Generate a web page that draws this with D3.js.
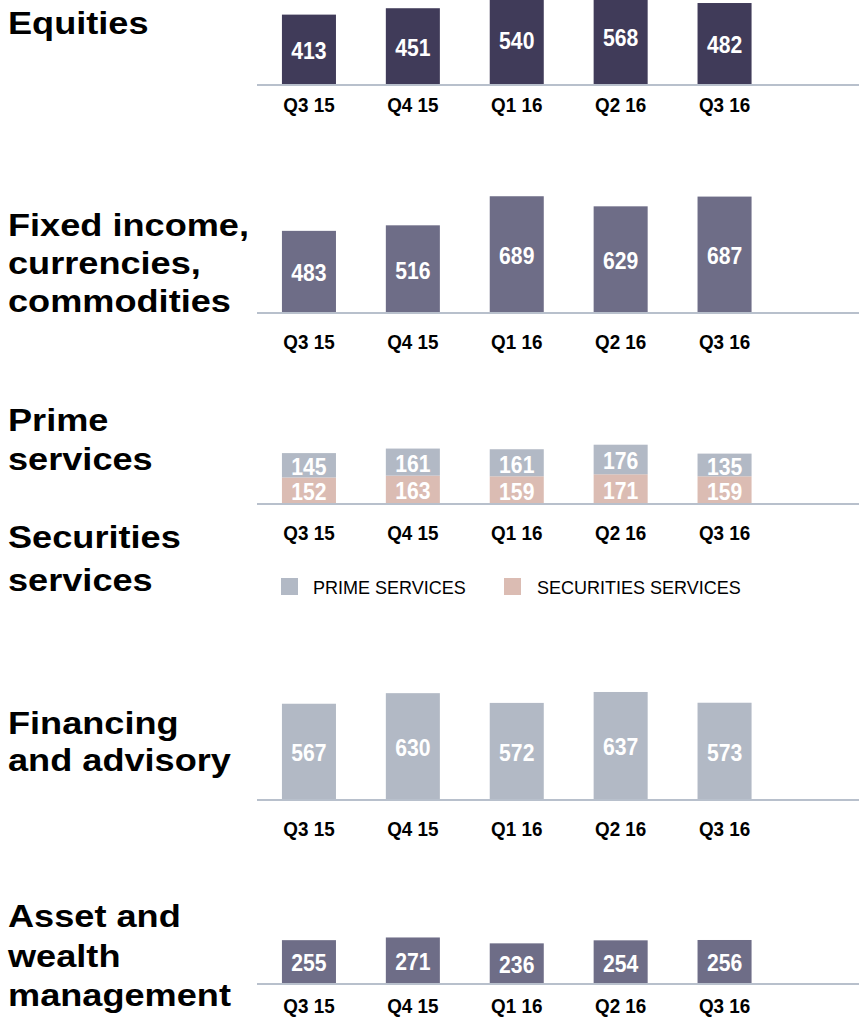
<!DOCTYPE html>
<html><head><meta charset="utf-8">
<script src="https://cdn.jsdelivr.net/npm/d3@7"></script>
<style>
html,body{margin:0;padding:0;background:#fff;}
svg{display:block;font-family:"Liberation Sans",Arial,Helvetica,sans-serif;}
</style></head>
<body>
<svg id="chart" width="859" height="1021"></svg>
<script>
// ---- data ----
const quarters = ["Q3 15", "Q4 15", "Q1 16", "Q2 16", "Q3 16"];
const equities = [413, 451, 540, 568, 482];
const ficc = [483, 516, 689, 629, 687];
const primeServices = [145, 161, 161, 176, 135];
const securitiesServices = [152, 163, 159, 171, 159];
const financingAdvisory = [567, 630, 572, 637, 573];
const assetWealth = [255, 271, 236, 254, 256];
const legendLabels = ["PRIME SERVICES", "SECURITIES SERVICES"];

// ---- layout ----
const svg = d3.select("#chart");
const x = d3.scaleBand().domain(quarters).range([257, 776.5]).paddingInner(0.48).paddingOuter(0.24);
const h = d3.scaleLinear().domain([0, 700]).range([0, 117.6]);

const colors = {
  equities: "#403b59",
  ficc: "#6e6d87",
  prime: "#b2b9c5",
  sec: "#dbbcb3",
  axis: "#b8c0cc"
};

function title(lines, baselines) {
  const g = svg.append("g").attr("transform", "translate(8,0) scale(1.13,1)");
  lines.forEach((t, i) => {
    g.append("text").attr("x", 0).attr("y", baselines[i])
      .attr("font-size", 32).attr("font-weight", "bold").attr("fill", "#000").text(t);
  });
}

function label(g, cx, cy, txt, size, fill) {
  g.append("text")
    .attr("transform", `translate(${cx},${cy}) scale(0.9,1)`)
    .attr("text-anchor", "middle").attr("dominant-baseline", "central")
    .attr("font-size", size).attr("font-weight", "bold").attr("fill", fill).text(txt);
}

function panel(axisY, stacks, tickOffset) {
  const g = svg.append("g");
  const cum = quarters.map(() => 0);
  stacks.forEach(s => {
    s.values.forEach((v, i) => {
      const y0 = axisY - h(cum[i]);
      const y1 = axisY - h(cum[i] + v);
      g.append("rect").attr("x", x(quarters[i])).attr("width", x.bandwidth())
        .attr("y", y1).attr("height", y0 - y1).attr("fill", s.color);
      cum[i] += v;
    });
  });
  g.append("line").attr("x1", 257).attr("x2", 859).attr("y1", axisY + 1).attr("y2", axisY + 1)
    .attr("stroke", colors.axis).attr("stroke-width", 2);
  const cum2 = quarters.map(() => 0);
  stacks.forEach(s => {
    s.values.forEach((v, i) => {
      const yc = axisY - h(cum2[i] + v / 2) + 2;
      label(g, x(quarters[i]) + x.bandwidth() / 2, yc, v, 23.5, "#fff");
      cum2[i] += v;
    });
  });
  quarters.forEach(q => {
    g.append("text")
      .attr("transform", `translate(${x(q) + x.bandwidth() / 2},${axisY + tickOffset}) scale(0.92,1)`)
      .attr("text-anchor", "middle").attr("font-size", 20.5).attr("font-weight", "bold")
      .attr("fill", "#000").text(q);
  });
}

// Equities
title(["Equities"], [34]);
panel(84, [{ values: equities, color: colors.equities }], 28);

// FICC
title(["Fixed income,", "currencies,", "commodities"], [236, 274, 312]);
panel(312, [{ values: ficc, color: colors.ficc }], 37);

// Prime / Securities
title(["Prime", "services"], [431, 470]);
title(["Securities", "services"], [548, 591]);
panel(503, [{ values: securitiesServices, color: colors.sec }, { values: primeServices, color: colors.prime }], 37);

// legend
const legendItems = [
  { label: legendLabels[0], color: colors.prime, sx: 281, tx: 313 },
  { label: legendLabels[1], color: colors.sec, sx: 504, tx: 537 }
];
const lg = svg.append("g");
legendItems.forEach(d => {
  lg.append("rect").attr("x", d.sx).attr("y", 578).attr("width", 17).attr("height", 17).attr("fill", d.color);
  lg.append("text").attr("x", d.tx).attr("y", 594).attr("font-size", 18).attr("fill", "#000").text(d.label);
});

// Financing and advisory
title(["Financing", "and advisory"], [734, 771]);
panel(799, [{ values: financingAdvisory, color: colors.prime }], 37);

// Asset and wealth management
title(["Asset and", "wealth", "management"], [927, 967, 1006]);
panel(983, [{ values: assetWealth, color: colors.ficc }], 30);
</script>
</body></html>
